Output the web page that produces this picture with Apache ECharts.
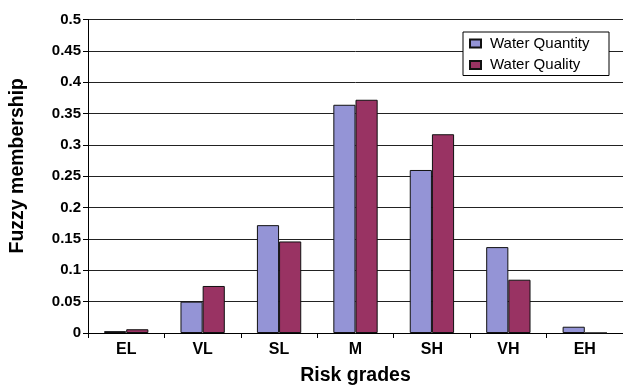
<!DOCTYPE html>
<html><head><meta charset="utf-8">
<script src="https://cdn.jsdelivr.net/npm/echarts@6/dist/echarts.min.js"></script>
<style>html,body{margin:0;padding:0;background:#fff}#c{width:623px;height:391px}</style>
</head><body><div id="c"></div>
<script>
var categories = ['EL','VL','SL','M','SH','VH','EH'];
var waterQuantity = [0.003, 0.05, 0.172, 0.364, 0.260, 0.137, 0.010];
var waterQuality  = [0.006, 0.075, 0.146, 0.372, 0.317, 0.085, 0];
var yTicks = [0, 0.05, 0.1, 0.15, 0.2, 0.25, 0.3, 0.35, 0.4, 0.45, 0.5];

var chart = echarts.init(document.getElementById('c'), null, {renderer:'canvas'});
var font = 'Liberation Sans, Arial, sans-serif';
chart.setOption({
  animation:false,
  backgroundColor:'#fff',
  grid:{left:88, top:19.5, width:539, height:315.5},
  legend:{
    orient:'vertical', left:463, top:32,
    padding:[4,4,3,6], itemGap:6.5,
    backgroundColor:'#fff', borderColor:'#000', borderWidth:1,
    itemWidth:11, itemHeight:8, icon:'rect',
    textStyle:{fontFamily:font, fontSize:15, lineHeight:15, color:'#000', padding:[0,0,0,4], width:115, overflow:'truncate'},
    data:['Water Quantity','Water Quality']
  },
  xAxis:{
    type:'category', data:categories, boundaryGap:true,
    name:'Risk grades', nameLocation:'middle', nameGap:33,
    nameTextStyle:{fontFamily:font, fontSize:19.5, fontWeight:'bold', color:'#000'},
    axisLine:{lineStyle:{color:'#000', width:1}},
    axisTick:{show:true, length:5, lineStyle:{color:'#000'}},
    axisLabel:{fontFamily:font, fontSize:16, fontWeight:'bold', color:'#000', margin:9},
    splitLine:{show:false}
  },
  yAxis:{
    type:'value', min:0, max:0.5, interval:0.05,
    name:'Fuzzy membership', nameLocation:'middle', nameGap:60, nameRotate:90,
    nameTextStyle:{fontFamily:font, fontSize:19.5, fontWeight:'bold', color:'#000', padding:[0,0,0,21]},
    axisLine:{show:true, lineStyle:{color:'#000', width:1}},
    axisTick:{show:true, length:5, lineStyle:{color:'#000'}},
    axisLabel:{fontFamily:font, fontSize:15, fontWeight:'bold', color:'#000', margin:7,
      formatter:function(v){ var r = yTicks.find(function(t){return Math.abs(t-v)<1e-9;}); return String(r !== undefined ? r : +v.toFixed(2)); }},
    splitLine:{show:true, lineStyle:{color:'#222', width:1}}
  },
  series:[
    {name:'Water Quantity', type:'bar', data:waterQuantity, barGap:'0%', barCategoryGap:'42%',
     itemStyle:{color:'#9494d6', borderColor:'#111', borderWidth:1}},
    {name:'Water Quality', type:'bar', data:waterQuality, barGap:'0%', barCategoryGap:'42%',
     itemStyle:{color:'#993363', borderColor:'#111', borderWidth:1}}
  ]
});
</script></body></html>
